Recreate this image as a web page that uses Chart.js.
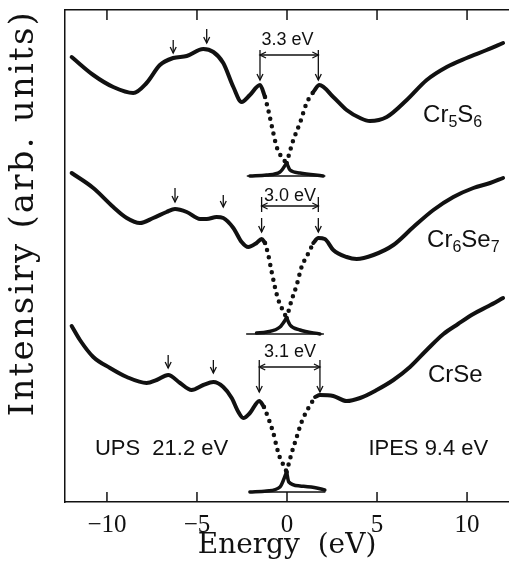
<!DOCTYPE html>
<html>
<head>
<meta charset="utf-8">
<script src="https://cdn.jsdelivr.net/npm/chart.js@4.4.0/dist/chart.umd.min.js"></script>
<style>
  html, body { margin: 0; padding: 0; background: #fff; }
  #wrap { width: 509px; height: 565px; position: relative; }
</style>
</head>
<body>
<div id="wrap"><canvas id="spectra"></canvas></div>
<script>
// Energy axis tick labels (eV)
const energyTicks = [-10, -5, 0, 5, 10];

// Spectra as [energy (eV), intensity (arb. units)] pieces.
// "Edge" pieces are drawn dotted, "Tail" pieces are the magnified near-EF parts.
const cr5s6Ups = [[-11.96,44.5],[-10.76,42.7],[-9.65,41.5],[-8.54,40.9],[-7.8,41.9],[-7.06,43.7],[-6.32,44.4],[-5.57,44.6],[-4.65,45.3],[-4.09,45.0],[-3.54,43.9],[-2.98,41.5],[-2.52,40.0],[-2.06,40.7],[-1.5,41.7],[-1.22,40.5]];
const cr5s6UpsEdge = [[-1.22,40.5],[-1.04,39.2],[-0.76,36.9],[-0.57,35.5],[-0.30,34.5],[-0.02,33.9]];
const cr5s6UpsTail = [[-0.02,33.9],[0.17,33.2],[0.72,32.9],[2.0,32.6]];
const cr5s6IpesTail = [[-2.06,32.6],[-1.13,32.7],[-0.39,33.0],[-0.02,33.9]];
const cr5s6IpesEdge = [[-0.02,33.9],[0.35,36.2],[0.72,37.9],[1.09,39.9],[1.46,41.0]];
const cr5s6Ipes = [[1.46,41.0],[1.8,41.7],[2.57,40.5],[3.31,39.2],[4.06,38.4],[4.6,38.1],[5.54,38.5],[6.65,40.2],[7.76,42.2],[8.87,43.5],[9.98,44.4],[11.09,45.2],[12.0,45.9]];
const cr5s6Base = [[-2.2,32.6],[2.1,32.6]];

const cr6se7Ups = [[-11.96,32.9],[-10.76,31.4],[-9.65,29.5],[-8.9,28.4],[-8.17,27.9],[-7.43,28.4],[-6.69,29.0],[-6.22,29.3],[-5.57,29.0],[-4.83,28.3],[-4.46,28.3],[-3.91,28.5],[-3.54,28.4],[-2.98,27.4],[-2.52,26.0],[-2.15,25.5],[-1.69,25.9],[-1.41,26.3],[-1.22,25.9]];
const cr6se7UpsEdge = [[-1.22,25.9],[-1.04,24.7],[-0.85,23.0],[-0.67,21.5],[-0.48,20.2],[-0.24,19.2],[-0.02,18.4]];
const cr6se7UpsTail = [[-0.02,18.4],[0.17,17.7],[0.72,17.2],[1.83,16.8]];
const cr6se7IpesTail = [[-1.69,16.9],[-1.13,17.0],[-0.39,17.5],[-0.02,18.4]];
const cr6se7IpesEdge = [[-0.02,18.4],[0.26,20.2],[0.54,21.7],[0.81,23.5],[1.19,24.9],[1.46,25.9]];
const cr6se7Ipes = [[1.46,25.9],[1.74,26.4],[2.1,26.3],[2.57,25.2],[3.31,24.5],[3.87,24.3],[4.8,24.7],[5.91,25.7],[7.02,27.5],[8.13,29.2],[9.24,30.5],[10.35,31.4],[11.28,31.9],[12.0,32.4]];
const cr6se7Base = [[-2.24,16.8],[2.02,16.8]];

const crseUps = [[-11.96,17.6],[-11.5,16.2],[-10.76,14.5],[-9.83,13.4],[-8.9,12.5],[-7.8,11.9],[-7.24,12.2],[-6.6,12.7],[-5.94,11.9],[-5.3,11.2],[-4.65,11.7],[-4.09,12.0],[-3.54,11.5],[-3.07,10.4],[-2.7,9.0],[-2.43,8.4],[-2.06,8.9],[-1.54,10.1],[-1.28,9.5]];
const crseUpsEdge = [[-1.28,9.5],[-1.04,8.4],[-0.76,6.9],[-0.57,5.5],[-0.39,4.4],[-0.2,3.7],[-0.02,3.0]];
const crseUpsTail = [[-0.02,3.0],[0.1,2.0],[0.72,1.6],[1.65,1.4],[2.1,1.2]];
const crseIpesTail = [[-2.06,1.0],[-1.13,1.1],[-0.39,1.5],[-0.02,3.0]];
const crseIpesEdge = [[-0.02,3.0],[0.26,4.9],[0.54,6.5],[0.81,8.0],[1.19,9.4],[1.56,10.5]];
const crseIpes = [[1.56,10.5],[1.83,10.7],[2.57,10.6],[3.31,10.1],[4.06,10.4],[4.98,11.2],[5.91,12.2],[6.83,13.5],[7.76,15.2],[8.69,16.8],[9.5,17.8],[10.35,18.8],[11.2,19.6],[12.0,20.4]];
const crseBase = [[-2.04,1.0],[2.1,1.0]];

// Marked features (eV)
const peakMarks = [[-6.32, -4.46], [-6.22, -3.54], [-6.6, -4.09]];
const gapEdges = [[-1.5, 1.74], [-1.41, 1.74], [-1.54, 1.83]];
const gapLabels = ['3.3 eV', '3.0 eV', '3.1 eV'];
const compoundNames = [['Cr', '5', 'S', '6'], ['Cr', '6', 'Se', '7'], ['Cr', '', 'Se', '']];

const INK = '#111';
const toXY = arr => arr.map(p => ({ x: p[0], y: p[1] }));

function solid(arr, w) {
  return { data: toXY(arr), borderColor: INK, borderWidth: w, pointRadius: 0,
    cubicInterpolationMode: 'monotone', borderCapStyle: 'round', borderJoinStyle: 'round', fill: false };
}
function dotted(arr) {
  return { data: toXY(arr), borderColor: INK, borderWidth: 4.5, pointRadius: 0,
    cubicInterpolationMode: 'monotone', borderCapStyle: 'round', borderDash: [0, 7.5], fill: false };
}

const datasets = [];
[
  [cr5s6Ups, cr5s6UpsEdge, cr5s6UpsTail, cr5s6IpesTail, cr5s6IpesEdge, cr5s6Ipes, cr5s6Base],
  [cr6se7Ups, cr6se7UpsEdge, cr6se7UpsTail, cr6se7IpesTail, cr6se7IpesEdge, cr6se7Ipes, cr6se7Base],
  [crseUps, crseUpsEdge, crseUpsTail, crseIpesTail, crseIpesEdge, crseIpes, crseBase]
].forEach(s => {
  datasets.push(solid(s[0], 4), dotted(s[1]), solid(s[2], 3.5), solid(s[3], 3.5),
    dotted(s[4]), solid(s[5], 4), solid(s[6], 1.5));
});

// letter spacing for the axis titles (the original uses a wide fixed-pitch face)
const titleSpacing = { x: 0, y: 2.2 };
class SpacedLinear extends Chart.LinearScale {
  drawTitle() {
    const ctx = this.ctx;
    ctx.save();
    ctx.letterSpacing = (titleSpacing[this.axis] || 0) + 'px';
    super.drawTitle();
    ctx.restore();
  }
}
SpacedLinear.id = 'spacedLinear';
SpacedLinear.defaults = Chart.LinearScale.defaults;
Chart.register(SpacedLinear);

// annotation placement (data units)
const notes = [
  { text: [0.03, 46.2], hY: 44.7, bar: [45.2, 43.9], arr: [43.9, 42.2], peaks: [[46.2, 44.9], [47.3, 45.9]], name: [7.56, 38.0] },
  { text: [0.17, 30.6], hY: 29.6, bar: [30.5, 29.0], arr: [28.4, 27.0], peaks: [[31.4, 30.0], [30.7, 29.5]], name: [7.78, 25.5] },
  { text: [0.17, 15.0], hY: 13.5, bar: [14.2, 12.4], arr: [12.4, 11.0], peaks: [[14.7, 13.4], [14.2, 12.9]], name: [7.83, 12.0] }
];

const annotate = {
  id: 'annotate',
  afterDraw(chart) {
    const { ctx, chartArea } = chart;
    const sx = chart.scales.x, sy = chart.scales.y;
    const px = e => sx.getPixelForValue(e);
    const py = v => sy.getPixelForValue(v);
    const line = (x1, y1, x2, y2) => { ctx.beginPath(); ctx.moveTo(x1, y1); ctx.lineTo(x2, y2); ctx.stroke(); };
    const down = (X, y1, y2) => {
      line(X, y1, X, y2);
      ctx.beginPath(); ctx.moveTo(X - 3, y2 - 6); ctx.lineTo(X, y2); ctx.lineTo(X + 3, y2 - 6); ctx.stroke();
    };
    ctx.save();
    ctx.strokeStyle = INK; ctx.fillStyle = INK;

    // inward ticks on top and bottom frame
    ctx.lineWidth = 1.5;
    energyTicks.forEach(t => {
      const X = px(t);
      line(X, chartArea.top, X, chartArea.top + 10);
      line(X, chartArea.bottom, X, chartArea.bottom - 10);
    });

    ctx.lineWidth = 1.3;
    notes.forEach((n, i) => {
      peakMarks[i].forEach((e, k) => down(px(e), py(n.peaks[k][0]), py(n.peaks[k][1])));
      const [eL, eR] = gapEdges[i];
      [eL, eR].forEach(e => {
        line(px(e), py(n.bar[0]), px(e), py(n.bar[1]));
        down(px(e), py(n.arr[0]), py(n.arr[1]));
      });
      const Y = py(n.hY), xL = px(eL), xR = px(eR);
      line(xL, Y, xR, Y);
      ctx.beginPath(); ctx.moveTo(xL + 6, Y - 3); ctx.lineTo(xL, Y); ctx.lineTo(xL + 6, Y + 3); ctx.stroke();
      ctx.beginPath(); ctx.moveTo(xR - 6, Y - 3); ctx.lineTo(xR, Y); ctx.lineTo(xR - 6, Y + 3); ctx.stroke();

      ctx.font = '18px "Liberation Sans", Arial, sans-serif';
      ctx.textAlign = 'center'; ctx.textBaseline = 'middle';
      ctx.fillText(gapLabels[i], px(n.text[0]), py(n.text[1]));

      // compound label with subscripts
      ctx.textAlign = 'left'; ctx.textBaseline = 'alphabetic';
      let X = px(n.name[0]);
      const B = py(n.name[1]);
      compoundNames[i].forEach((part, k) => {
        const sub = k % 2 === 1;
        ctx.font = (sub ? '16px' : '24px') + ' "Liberation Sans", Arial, sans-serif';
        ctx.fillText(part, X, sub ? B + 5 : B);
        X += ctx.measureText(part).width;
      });
    });

    ctx.font = '22px "Liberation Sans", Arial, sans-serif';
    ctx.textAlign = 'left'; ctx.textBaseline = 'alphabetic';
    ctx.fillText('UPS  21.2 eV', px(-10.67), py(4.7));
    ctx.fillText('IPES 9.4 eV', px(4.52), py(4.7));
    ctx.restore();
  }
};

new Chart(document.getElementById('spectra'), {
  type: 'line',
  data: { datasets },
  options: {
    responsive: true,
    maintainAspectRatio: false,
    animation: false,
    parsing: false,
    layout: { padding: { top: 10, right: 0, left: 0, bottom: 0 } },
    plugins: { legend: { display: false }, tooltip: { enabled: false } },
    scales: {
      x: {
        type: 'spacedLinear', min: -12.33, max: 12.33,
        afterBuildTicks: s => { s.ticks = energyTicks.map(v => ({ value: v })); },
        afterFit: s => { s.height = 63; },
        grid: { display: false },
        border: { display: true, color: INK, width: 1.5 },
        ticks: {
          color: INK, padding: 0,
          font: { family: '"Liberation Serif", "Times New Roman", serif', size: 25 },
          callback: v => (v < 0 ? '\u2212' + Math.abs(v) : String(v))
        },
        title: {
          display: true, text: 'Energy  (eV)', color: INK,
          font: { family: '"DejaVu Serif", serif', size: 28 },
          padding: { top: 0, bottom: 2 }
        }
      },
      xTop: {
        type: 'linear', position: 'top', min: -12.33, max: 12.33,
        afterFit: s => { s.height = 0; },
        grid: { display: false },
        border: { display: true, color: INK, width: 1.5 },
        ticks: { display: false }
      },
      y: {
        type: 'spacedLinear', min: 0, max: 49.2,
        afterFit: s => { s.width = 65; },
        grid: { display: false },
        border: { display: true, color: INK, width: 1.5 },
        ticks: { display: false },
        title: {
          display: true, text: 'Intensiry (arb. units)', color: INK, align: 'end',
          font: { family: '"DejaVu Serif", serif', size: 34 },
          padding: { top: 4, bottom: 0 }
        }
      }
    }
  },
  plugins: [annotate]
});
</script>
</body>
</html>
